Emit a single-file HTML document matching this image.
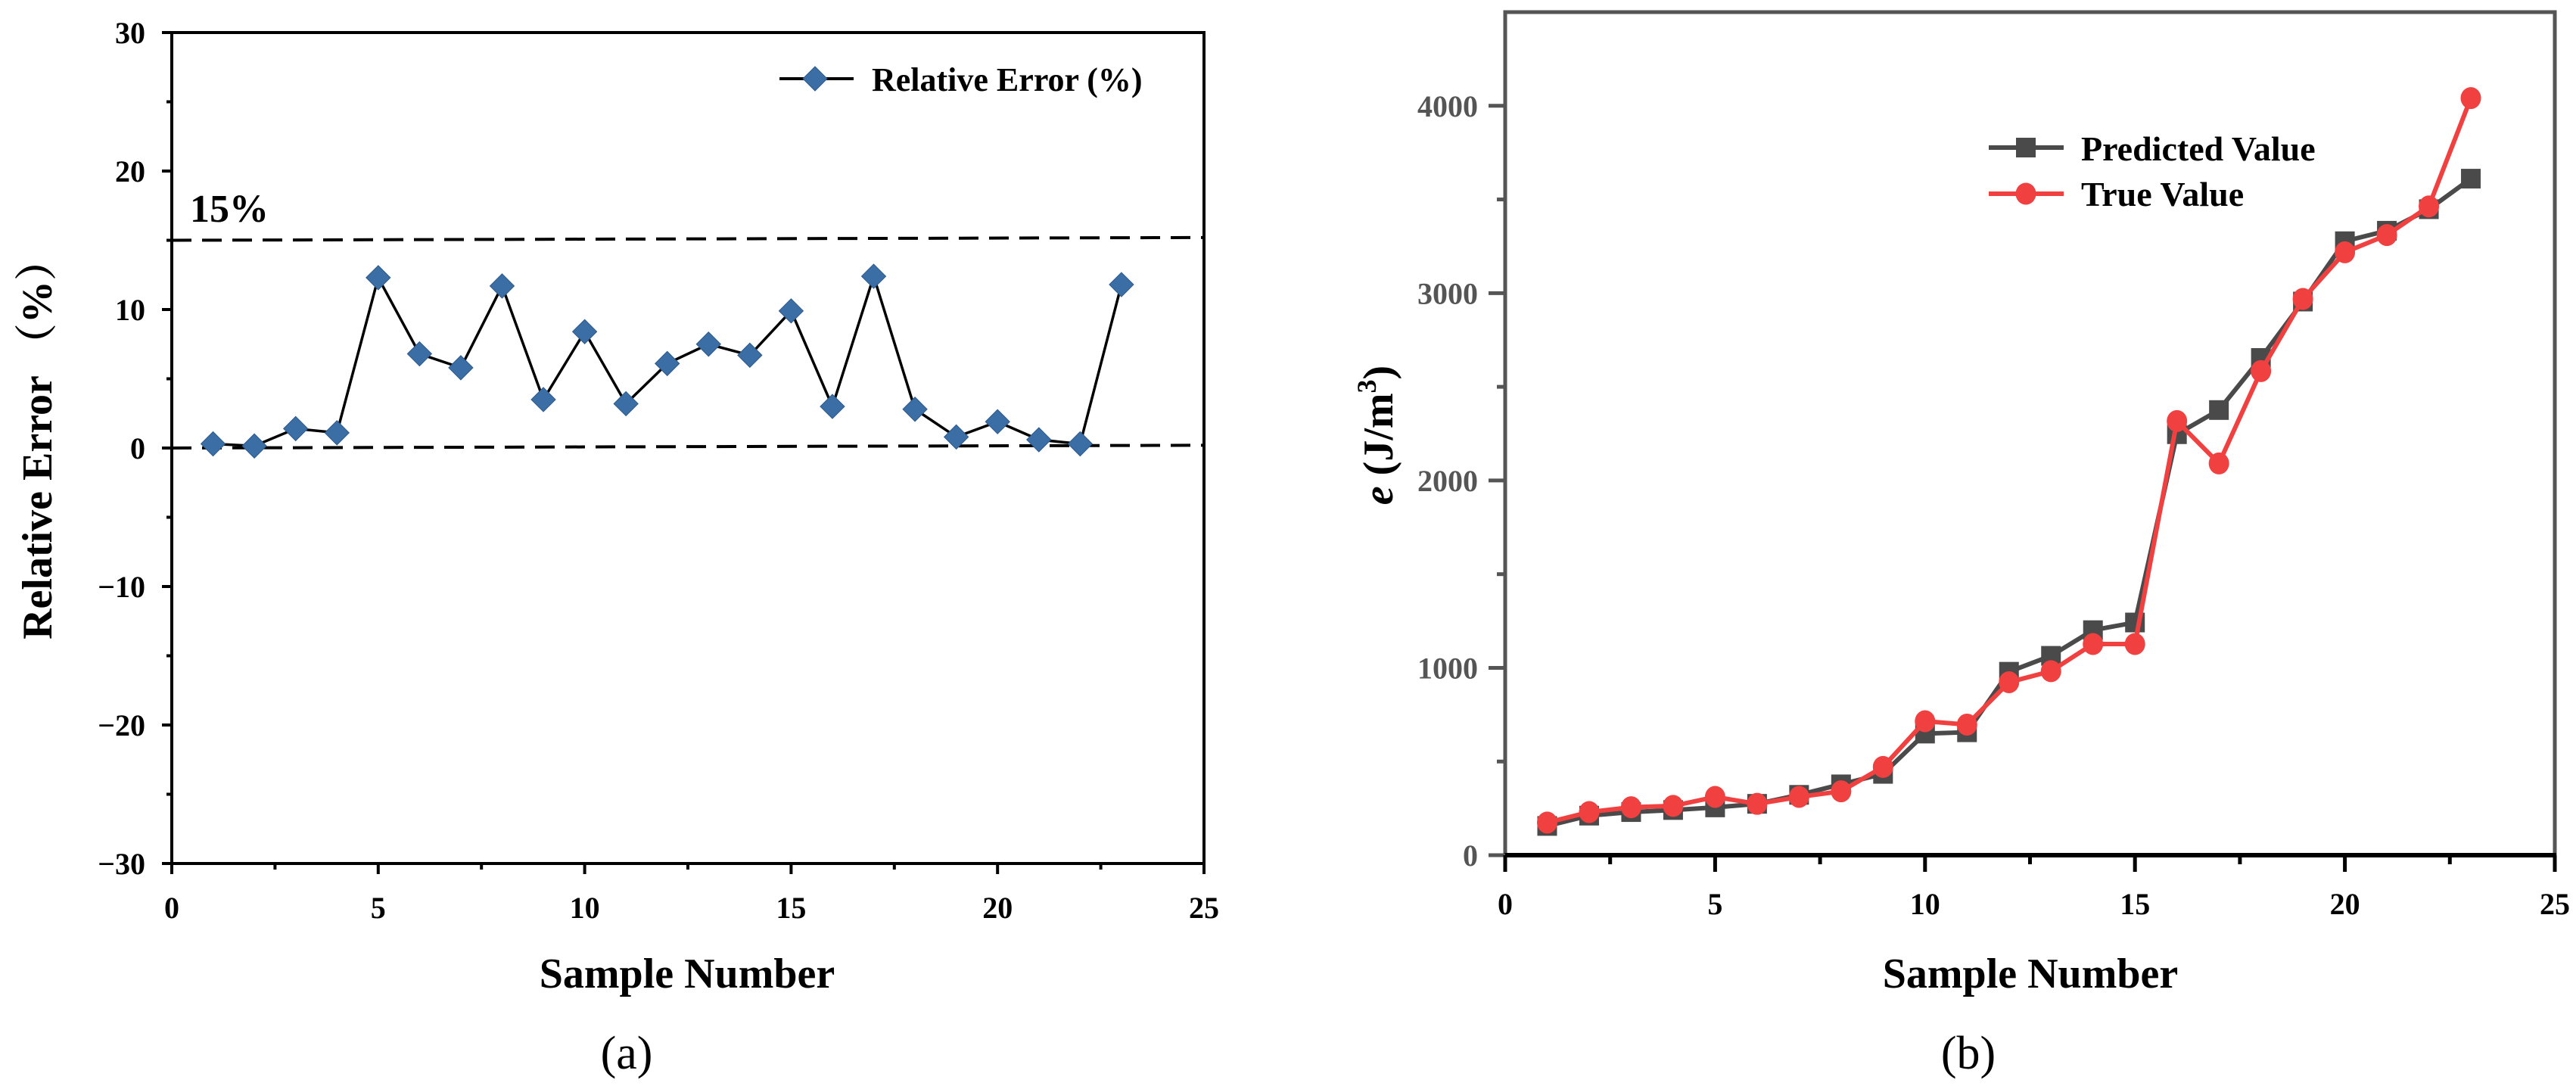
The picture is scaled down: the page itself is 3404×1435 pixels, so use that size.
<!DOCTYPE html>
<html><head><meta charset="utf-8"><style>
html,body{margin:0;padding:0;background:#fff;}
svg{display:block;}
text{font-family:"Liberation Serif","Noto Serif CJK SC",serif;}
</style></head><body>
<svg id="svg" width="3404" height="1435" viewBox="0 0 3404 1435" xmlns="http://www.w3.org/2000/svg">
<g id="chartA"></g>
<g id="chartB"></g>
</svg>
<script>
const samples = [1,2,3,4,5,6,7,8,9,10,11,12,13,14,15,16,17,18,19,20,21,22,23];
const relErr = [0.3,0.15,1.4,1.1,12.3,6.8,5.8,11.7,3.5,8.4,3.2,6.1,7.5,6.7,9.9,3.0,12.4,2.8,0.8,1.9,0.6,0.3,11.8];
const refLines = [[15,15.2],[0,0.2]];
const aYTicks = [30,20,10,0,-10,-20,-30];
const aXTicks = [0,5,10,15,20,25];
const predicted = [156,211,230,241,255,274,322,378,434,649,656,979,1064,1201,1242,2247,2376,2654,2955,3277,3333,3448,3611];
const trueVal = [174,230,256,263,311,274,311,341,471,715,697,923,982,1127,1127,2317,2091,2584,2969,3218,3310,3463,4041];
const bYTicks = [0,1000,2000,3000,4000];
const bXTicks = [0,5,10,15,20,25];

const NS='http://www.w3.org/2000/svg';
function mk(parent,tag,attrs,text){const e=document.createElementNS(NS,tag);for(const k in attrs)e.setAttribute(k,attrs[k]);if(text!==undefined)e.textContent=text;parent.appendChild(e);return e;}

// ---------- Chart A ----------
const A=document.getElementById('chartA');
const ax=v=>227+(v-0)/25*(1591-227);
const ay=v=>592-v*18.3;
let e;
e=mk(A,'rect',{x:227,y:ay(30),width:1591-227,height:ay(-30)-ay(30),fill:'none',stroke:'#000','stroke-width':4});


aYTicks.forEach(t=>{
  e=mk(A,'line',{x1:214,x2:227,y1:ay(t),y2:ay(t),stroke:'#000','stroke-width':4});
  
  
  e=mk(A,'text',{x:192,y:ay(t)+14,'text-anchor':'end','font-size':40,'font-weight':'bold'},t<0?'\u2212'+(-t):String(t));
  
  
});
for(let t=-25;t<30;t+=10){
  e=mk(A,'line',{x1:220,x2:227,y1:ay(t),y2:ay(t),stroke:'#000','stroke-width':4});
  
  
}
aXTicks.forEach(t=>{
  e=mk(A,'line',{x1:ax(t),x2:ax(t),y1:ay(-30),y2:ay(-30)+14,stroke:'#000','stroke-width':4});
  
  
  e=mk(A,'text',{x:ax(t),y:1213,'text-anchor':'middle','font-size':40,'font-weight':'bold'},String(t));
  
  
});
for(let t=2.5;t<25;t+=5){
  e=mk(A,'line',{x1:ax(t),x2:ax(t),y1:ay(-30),y2:ay(-30)+8,stroke:'#000','stroke-width':4});
  
  
}
refLines.forEach(r=>{
  e=mk(A,'line',{x1:ax(0),x2:ax(25),y1:ay(r[0]),y2:ay(r[1]),stroke:'#000','stroke-width':4,'stroke-dasharray':'26,14'});
  
  
});
e=mk(A,'text',{x:251,y:293,'font-size':52,'font-weight':'bold'},'15%');


e=mk(A,'polyline',{points:samples.map((s,i)=>ax(s)+','+ay(relErr[i])).join(' '),fill:'none',stroke:'#000','stroke-width':3.5});


function diamond(g,cx,cy,r){return mk(g,'polygon',{points:`${cx},${cy-r} ${cx+r},${cy} ${cx},${cy+r} ${cx-r},${cy}`,fill:'#3a6ea5',stroke:'#2c5a8c','stroke-width':1});}
samples.forEach((s,i)=>{
  e=diamond(A,ax(s),ay(relErr[i]),16);
  
  
});
e=mk(A,'line',{x1:1030,x2:1128,y1:104,y2:104,stroke:'#000','stroke-width':4});


e=diamond(A,1077,104,16);


e=mk(A,'text',{x:1152,y:120,'font-size':44,'font-weight':'bold'},'Relative Error (%)');


e=mk(A,'text',{x:908,y:1305,'text-anchor':'middle','font-size':56,'font-weight':'bold'},'Sample Number');


e=mk(A,'text',{x:0,y:0,'text-anchor':'middle','font-size':56,'font-weight':'bold',transform:'translate(68,580) rotate(-90)'},'Relative Error （%）');


e=mk(A,'text',{x:828,y:1412,'text-anchor':'middle','font-size':62},'(a)');



// ---------- Chart B ----------
const B=document.getElementById('chartB');
const bx=v=>1989+v/25*(3376-1989);
const by=v=>1130-v/4500*(1130-16);
const G='#555';
e=mk(B,'rect',{x:1989,y:by(4500),width:3376-1989,height:by(0)-by(4500),fill:'none',stroke:G,'stroke-width':5});


e=mk(B,'line',{x1:1987,x2:3378,y1:by(0),y2:by(0),stroke:'#000','stroke-width':6});


bYTicks.forEach(t=>{
  e=mk(B,'line',{x1:1967,x2:1989,y1:by(t),y2:by(t),stroke:G,'stroke-width':5});
  
  
  e=mk(B,'text',{x:1953,y:by(t)+14,'text-anchor':'end','font-size':40,'font-weight':'bold',fill:G},String(t));
  
  
});
for(let t=500;t<4500;t+=1000){
  e=mk(B,'line',{x1:1978,x2:1989,y1:by(t),y2:by(t),stroke:G,'stroke-width':5});
  
  
}
bXTicks.forEach(t=>{
  e=mk(B,'line',{x1:bx(t),x2:bx(t),y1:by(0),y2:by(0)+22,stroke:'#000','stroke-width':5});
  
  
  e=mk(B,'text',{x:bx(t),y:1208,'text-anchor':'middle','font-size':40,'font-weight':'bold'},String(t));
  
  
});
for(let t=2.5;t<25;t+=5){
  e=mk(B,'line',{x1:bx(t),x2:bx(t),y1:by(0),y2:by(0)+12,stroke:'#000','stroke-width':5});
  
  
}
e=mk(B,'polyline',{points:samples.map((s,i)=>bx(s)+','+by(predicted[i])).join(' '),fill:'none',stroke:'#4a4a4a','stroke-width':6});


samples.forEach((s,i)=>{
  e=mk(B,'rect',{x:bx(s)-13,y:by(predicted[i])-13,width:26,height:26,fill:'#4a4a4a'});
  
  
});
e=mk(B,'polyline',{points:samples.map((s,i)=>bx(s)+','+by(trueVal[i])).join(' '),fill:'none',stroke:'#f04040','stroke-width':6});


samples.forEach((s,i)=>{
  e=mk(B,'ellipse',{cx:bx(s),cy:by(trueVal[i]),rx:13.5,ry:14.5,fill:'#f04040'});
  
  
});
e=mk(B,'line',{x1:2628,x2:2727,y1:195,y2:195,stroke:'#4a4a4a','stroke-width':6});


e=mk(B,'rect',{x:2664,y:182,width:26,height:26,fill:'#4a4a4a'});


e=mk(B,'text',{x:2750,y:212,'font-size':46,'font-weight':'bold'},'Predicted Value');


e=mk(B,'line',{x1:2628,x2:2727,y1:256,y2:256,stroke:'#f04040','stroke-width':6});


e=mk(B,'ellipse',{cx:2677,cy:256,rx:13.5,ry:14.5,fill:'#f04040'});


e=mk(B,'text',{x:2750,y:272,'font-size':46,'font-weight':'bold'},'True Value');


e=mk(B,'text',{x:2683,y:1305,'text-anchor':'middle','font-size':56,'font-weight':'bold'},'Sample Number');


const yt=mk(B,'text',{x:0,y:0,'text-anchor':'middle','font-size':56,'font-weight':'bold',transform:'translate(1840,575) rotate(-90)'});


mk(yt,'tspan',{'font-style':'italic'},'e');
mk(yt,'tspan',{},' (J/m');
mk(yt,'tspan',{'font-size':36,dy:-22},'3');
mk(yt,'tspan',{dy:22},')');
e=mk(B,'text',{x:2601,y:1412,'text-anchor':'middle','font-size':62},'(b)');


</script>
</body></html>
